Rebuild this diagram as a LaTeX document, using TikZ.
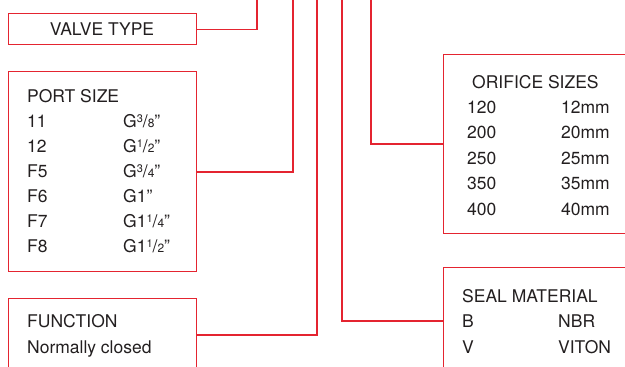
\documentclass[tikz,border=0pt]{standalone}
\usepackage{fontspec}
\setmainfont{TeX Gyre Heros}
\usetikzlibrary{positioning}
\definecolor{keyred}{RGB}{228,36,48}
\definecolor{keytext}{RGB}{35,31,32}
\newcommand\frc[2]{\raisebox{5pt}{\fontsize{11}{11}\selectfont #1}/{\fontsize{12}{12}\selectfont #2}}
\tikzset{
    box/.style ={draw=keyred, line width=1.2pt, rectangle, anchor=north west, inner sep=0pt},
    lead/.style ={draw=keyred, line width=1.2pt},
    txt/.style ={anchor=base west, inner sep=0pt, text=keytext, font=\fontsize{17.5}{20}\selectfont}
}

\begin{document}
\begin{tikzpicture}[x=1pt, y=-1pt]
    \clip (0,0) rectangle (625,367);

    % boxes on the left
    \node[box, minimum width=188pt, minimum height=31pt] (valve) at (8,13) {};
    \node[box, minimum width=188pt, minimum height=200pt] (port) at (8,71) {};
    \node[box, minimum width=188pt, minimum height=100pt] (func) at (8,298) {};

    % boxes on the right
    \node[box, minimum width=200pt, minimum height=179pt] (orif) at (443,54) {};
    \node[box, minimum width=200pt, minimum height=120pt] (seal) at (443,267) {};

    % free ends at the top
    \coordinate (tvalve) at (257,0);
    \coordinate (tport) at (293,0);
    \coordinate (tfunc) at (317,0);
    \coordinate (tseal) at (342,0);
    \coordinate (torif) at (371,0);

    % leader lines
    \draw[lead] (valve.east) -| (tvalve);
    \draw[lead] (port.east |- 0,172) -| (tport);
    \draw[lead] (func.east |- 0,335) -| (tfunc);
    \draw[lead] (tseal) |- (seal.west |- 0,321);
    \draw[lead] (torif) |- (orif.west |- 0,144);

    % texts
    \node[txt, anchor=base] (valvet) at (102,35) {VALVE TYPE};

    \node[txt] (portt) at (27,102) {PORT SIZE};
    \foreach \code/\size [count=\i] in {11/{G\frc{3}{8}”}, 12/{G\frc{1}{2}”}, F5/{G\frc{3}{4}”},
        F6/{G1”}, F7/{G1\frc{1}{4}”}, F8/{G1\frc{1}{2}”}}{
        \node[txt] (pc\i) at (27,102+25*\i) {\code};
        \node[txt] (ps\i) at (123,102+25*\i) {\size};
    }

    \node[txt] (funct) at (27,327) {FUNCTION};
    \node[txt] (funcv) at (27,353) {Normally closed};

    \node[txt] (orift) at (472,88) {ORIFICE SIZES};
    \foreach \code/\size [count=\i] in {120/12mm, 200/20mm, 250/25mm, 350/35mm, 400/40mm}{
        \node[txt] (oc\i) at (467,88+25.4*\i) {\code};
        \node[txt] (os\i) at (561,88+25.4*\i) {\size};
    }

    \node[txt] (sealt) at (462,302) {SEAL MATERIAL};
    \node[txt] (sc1) at (462,327) {B};
    \node[txt] (ss1) at (558,327) {NBR};
    \node[txt] (sc2) at (462,353) {V};
    \node[txt] (ss2) at (558,353) {VITON};
\end{tikzpicture}
\end{document}
